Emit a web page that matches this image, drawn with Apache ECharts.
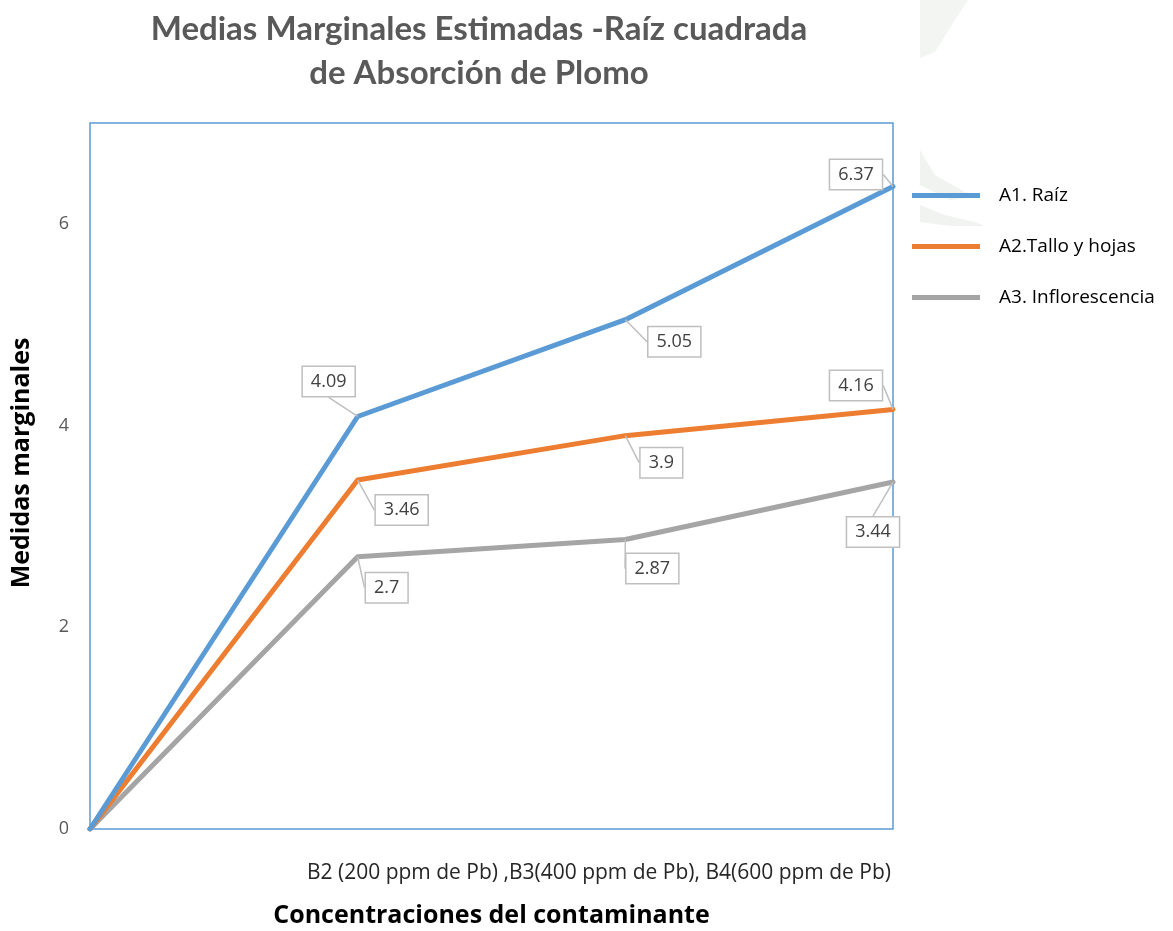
<!DOCTYPE html>
<html>
<head>
<meta charset="utf-8">
<script src="https://cdn.jsdelivr.net/npm/echarts@6/dist/echarts.min.js"></script>
<style>
  html, body { margin: 0; padding: 0; background: #fff; overflow: hidden; }
  #chart { width: 1173px; height: 931px; }
</style>
</head>
<body>
<div id="chart"></div>
<script>
// Concentration levels (origin + three Pb doses)
const categories = ['0', 'B2', 'B3', 'B4'];

// Estimated marginal means (square root of lead uptake) per plant organ
const raiz = [0, 4.09, 5.05, 6.37];
const talloHojas = [0, 3.46, 3.9, 4.16];
const inflorescencia = [0, 2.7, 2.87, 3.44];

const seriesNames = ['A1. Raíz', 'A2.Tallo y hojas', 'A3. Inflorescencia'];
const yTicks = [0, 2, 4, 6];

// Callout offsets (label centre relative to its point) per series / point
const calloutOffsets = [
  [null, [-29, -35], [49, 22], [-37, -12]],
  [null, [44, 30], [36, 27], [-37, -24]],
  [null, [29, 31], [27, 29], [-20, 50]]
];

const colors = ['#5B9BD5', '#ED7D31', '#A5A5A5'];

function buildSeries(values, idx) {
  return {
    name: seriesNames[idx],
    type: 'line',
    data: values.map(function (v, i) {
      return i === 0 ? { value: v, label: { show: false } } : v;
    }),
    symbol: 'circle',
    symbolSize: 0.1,
    showSymbol: true,
    smooth: false,
    lineStyle: { width: 5, color: colors[idx], cap: 'round', join: 'round' },
    itemStyle: { color: colors[idx] },
    z: 5 - idx,
    label: {
      show: true,
      position: 'inside',
      fontFamily: 'Open Sans, sans-serif',
      fontSize: 18,
      color: '#404040',
      backgroundColor: '#fff',
      borderColor: '#BFBFBF',
      borderWidth: 1.5,
      padding: [6, 8, 5, 8]
    },
    labelLine: {
      show: true,
      lineStyle: { color: '#BFBFBF', width: 1.5 }
    },
    labelLayout: function (p) {
      const off = calloutOffsets[idx][p.dataIndex];
      if (!off) return {};
      return { dx: off[0], dy: off[1] };
    }
  };
}

const chart = echarts.init(document.getElementById('chart'), null, {
  renderer: 'canvas', width: 1173, height: 931
});

chart.setOption({
  backgroundColor: '#fff',
  animation: false,
  title: [
    {
      text: 'Medias Marginales Estimadas -Raíz cuadrada\nde Absorción de Plomo',
      left: 474,
      top: 2,
      textAlign: 'center',
      textStyle: {
        fontFamily: 'Lato, sans-serif',
        fontWeight: 'bold',
        fontSize: 33,
        lineHeight: 44,
        color: '#595959'
      }
    },
    {
      text: 'B2 (200 ppm de Pb) ,B3(400 ppm de Pb), B4(600 ppm de Pb)',
      right: 277,
      top: 858,
      textStyle: {
        fontFamily: 'Open Sans, sans-serif',
        fontWeight: 'normal',
        fontSize: 21,
        color: '#262626'
      }
    }
  ],
  graphic: [
    // faint background watermark on the right margin
    {
      type: 'polygon', silent: true, z: -10,
      shape: { points: [[920, 0], [968, 0], [955, 20], [935, 52], [920, 58]] },
      style: { fill: 'rgba(215,222,215,0.3)' }
    },
    {
      type: 'polygon', silent: true, z: -10,
      shape: { points: [[920, 150], [935, 175], [965, 192], [985, 196], [950, 200], [920, 185]] },
      style: { fill: 'rgba(215,222,215,0.35)' }
    },
    {
      type: 'polygon', silent: true, z: -10,
      shape: { points: [[920, 205], [945, 215], [975, 222], [985, 226], [950, 226], [920, 222]] },
      style: { fill: 'rgba(215,222,215,0.35)' }
    }
  ],
  legend: {
    orient: 'vertical',
    left: 907,
    top: 181,
    itemWidth: 68,
    itemHeight: 5,
    itemGap: 32,
    icon: 'rect',
    data: seriesNames,
    textStyle: {
      fontFamily: 'Open Sans, sans-serif',
      fontSize: 19,
      color: '#000',
      padding: [0, 0, 0, 14]
    }
  },
  grid: {
    left: 90,
    top: 123,
    width: 803,
    height: 706,
    outerBoundsMode: 'none',
    show: true,
    borderColor: '#5B9BD5',
    borderWidth: 1.5,
    containLabel: false
  },
  xAxis: {
    type: 'category',
    data: categories,
    boundaryGap: false,
    name: 'Concentraciones del contaminante',
    nameLocation: 'middle',
    nameGap: 74,
    nameTextStyle: {
      fontFamily: 'Open Sans, sans-serif',
      fontWeight: 'bold',
      fontSize: 25,
      color: '#000'
    },
    axisLine: { show: false },
    axisTick: { show: false },
    axisLabel: { show: false },
    splitLine: { show: false }
  },
  yAxis: {
    type: 'value',
    min: 0,
    max: 7,
    interval: 2,
    name: 'Medidas marginales',
    nameLocation: 'middle',
    nameRotate: 90,
    nameGap: 56,
    nameTextStyle: {
      fontFamily: 'Open Sans, sans-serif',
      fontWeight: 'bold',
      fontSize: 25,
      color: '#000',
      padding: [0, 0, 0, 26]
    },
    axisLine: { show: false },
    axisTick: { show: false },
    splitLine: { show: false },
    axisLabel: {
      margin: 21,
      fontFamily: 'Open Sans, sans-serif',
      fontSize: 18,
      color: '#595959',
      formatter: function (v) { return yTicks.indexOf(v) >= 0 ? String(v) : ''; }
    }
  },
  series: [
    buildSeries(raiz, 0),
    buildSeries(talloHojas, 1),
    buildSeries(inflorescencia, 2)
  ]
});
</script>
</body>
</html>
